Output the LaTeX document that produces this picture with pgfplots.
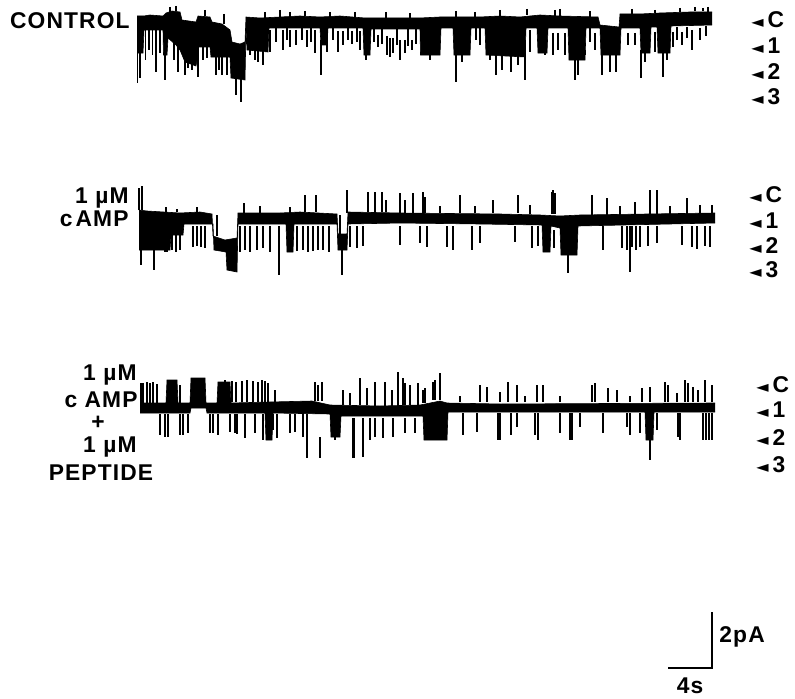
\documentclass[border=0pt]{standalone}
\usepackage{fontspec}
\setmainfont{Liberation Sans}
\newfontfamily\lab{Liberation Sans}[LetterSpace=5]
\newfontfamily\symfont{DejaVu Sans}
\usepackage{pgfplots}
\usepackage{pgfplotstable}
\pgfplotsset{compat=1.18}
\usepgfplotslibrary{fillbetween}

% spikes: x, upper end a, lower end b (pixel rows, downward = larger)
\pgfplotstableread{
x a b
137.5 26 83
140 30 78
145.5 30 60
149 26 50
152.5 26 55
156 26 72
160 26 53
165 30 80
174 40 60
178 40 72
185 50 75
188 50 68
192 50 70
198 47 77
203 47 60
207 47 58
216 55 75
219 55 70
222 55 75
227 55 75
236 78 95
241 78 102
250 30 55
253 30 48
255 45 60
258 40 62
263 30 65
270 30 52
276 28 42
283 30 50
287 28 40
290 30 47
296 30 45
302 28 40
307 30 47
311 28 42
315 30 53
321 40 75
327 31 52
333 28 40
338 31 52
343 31 45
348 28 40
352 31 44
357 28 42
360 31 50
366 50 60
374 29 42
378 35 47
382 29 44
387 36 55
390 38 57
393 38 53
397 29 45
400 40 60
405 40 53
408 29 46
412 40 50
416 29 44
430 50 60
456 50 82
462 50 62
476 28 40
480 28 45
490 50 60
496 52 75
502 52 70
511 55 72
518 55 65
525 40 80
530 30 52
545 40 55
553 33 55
558 33 50
565 33 55
575 55 80
578 55 75
585 50 55
590 28 42
595 33 50
602 50 75
610 50 72
616 50 72
628 33 45
635 33 45
641 50 78
645 50 62
655 32 52
663 50 77
667 50 60
673 32 47
677 27 40
682 32 45
687 27 38
692 30 50
700 28 40
706 26 36
170 7 13
176 6 11
205 10 16
224 14 24
265 12 18
280 10 17
290 12 17
305 11 16
330 12 17
355 12 17
386 12 18
410 13 19
456 11 17
475 12 17
500 10 16
527 9 15
555 10 16
560 9 16
590 11 17
632 9 14
655 10 13
680 8 12
695 7 11
703 8 11
708 7 12
}\spikesA

\pgfplotstableread{
x a b
141 240 265
154 250 270
165 240 252
167 235 252
172 235 250
176 235 252
180 235 250
193 226 247
197 226 246
201 226 247
205 226 248
240 226 252
245 226 250
250 226 252
257 226 250
263 226 248
270 226 252
279 226 275
297 226 251
303 226 250
308 226 252
313 226 251
318 226 250
323 226 250
329 226 252
342 250 275
350 226 247
357 226 248
363 226 246
400 226 245
420 226 243
427 226 247
447 226 247
453 226 250
472 226 250
480 226 243
515 226 242
532 226 248
538 226 246
554 230 248
568 255 273
603 226 250
622 226 248
627 226 250
630 226 272
632 226 247
636 226 250
640 226 247
648 226 246
657 226 243
682 226 245
692 226 247
697 226 249
705 226 246
710 226 247
139 188 210
142 186 210
166 207 212
177 209 212
197 207 212
217 215 236
244 203 213
260 206 213
290 207 213
305 195 212
316 195 212
340 215 234
347 190 213
368 192 212
375 192 212
382 192 212
386 200 212
400 193 213
405 200 213
413 193 213
423 192 213
425 197 213
440 206 213
460 195 213
475 206 213
493 200 213
518 195 213
530 205 214
552 192 214
553 190 214
555 193 214
592 195 215
607 198 215
620 206 215
635 202 215
650 190 215
657 190 215
670 206 214
687 198 214
700 205 214
712 205 213
}\spikesB

\pgfplotstableread{
x a b
160 414 435
165 414 437
168 414 437
180 414 435
183 414 435
188 414 433
210 414 433
213 414 433
218 414 435
230 414 432
235 414 433
237 414 434
245 414 438
255 414 433
263 414 440
273 414 430
277 414 438
290 414 433
295 414 432
303 414 437
307 414 458
320 437 458
335 418 440
353 418 458
354 418 458
363 418 457
370 418 440
375 418 437
383 418 438
393 418 437
405 418 433
415 418 433
463 413 435
477 413 432
498 413 440
500 413 440
511 413 435
517 413 427
535 413 435
538 413 440
560 413 433
570 413 440
572 413 440
580 413 427
603 413 433
627 413 427
630 413 435
640 413 433
650 440 460
657 413 430
678 413 437
680 413 440
703 413 440
706 413 440
709 413 440
712 413 440
141 383 403
143 383 403
147 382 403
150 383 403
153 382 403
157 384 403
180 385 403
225 380 402
232 381 402
236 382 402
242 381 402
247 380 402
253 381 402
258 382 402
262 380 402
265 381 402
268 383 402
275 390 402
315 382 401
318 385 401
322 382 401
343 390 405
350 393 405
360 378 405
367 388 405
375 382 406
385 382 406
392 390 406
398 372 406
403 378 405
405 383 405
410 385 405
418 383 405
423 390 403
425 388 403
433 382 400
435 380 400
440 373 400
460 396 402
480 385 402
487 387 402
500 392 402
508 382 402
517 385 402
525 396 402
537 385 402
543 385 402
560 396 402
592 385 402
595 383 402
608 388 402
617 390 402
630 396 402
642 388 402
650 387 402
665 382 402
668 385 402
677 393 402
685 380 402
688 383 402
693 387 402
698 390 402
705 380 402
712 385 402
}\spikesC

\newcommand\txt[1]{{\lab\bfseries\fontsize{11.4}{13}\selectfont #1}}
\newcommand\tri{{\symfont\fontsize{8}{8}\selectfont ◄}}
\newcommand\lev[1]{\tri\hspace{2pt}\txt{#1}}

\begin{document}
\begin{tikzpicture}
\begin{axis}[
  scale only axis, width=397.5pt, height=349pt,
  xmin=0, xmax=795, ymin=0, ymax=698, y dir=reverse,
  hide axis, clip=false,
  band/.style={black, line width=0.3pt, no marks},
  spk/.style={draw=none, no marks,
    error bars/.cd, y dir=plus, y explicit,
    error mark=none, error bar style={draw=black, line width=0.65pt}},
]
% ---- CONTROL trace ----
\addplot[band, name path=ua] coordinates {(137,16) (144,16) (150,15) (163,16) (166,13) (172,11) (180,12) (182,20) (196,22) (198,16) (210,17) (212,22) (222,24) (230,30) (232,42) (240,44) (245,42) (246,17) (260,18) (280,17) (300,16) (320,17) (340,16) (365,18) (380,18) (420,18) (440,17) (480,17) (500,16) (520,17) (540,15) (560,16) (598,17) (600,25) (619,27) (620,14) (640,14) (660,13) (690,12) (712,12)};
\addplot[band, name path=la] coordinates {(137,53) (143,53) (144,30) (163,30) (163.5,55) (167,55) (168,38) (176,45) (180,50) (185,62) (196,66) (197,60) (198,47) (210,47) (211,57) (230,57) (231,78) (245,80) (246,28) (247,50) (268,52) (269,28) (320,28) (321,45) (327,45) (328,28) (363,28) (364,55) (370,55) (371,29) (420,29) (420.5,55) (440,55) (441,28) (453,28) (454,55) (470,55) (471,28) (485,28) (486,55) (525,57) (526,28) (537,28) (538,53) (547,53) (548,28) (568,28) (569,60) (585,60) (586,28) (600,28) (601,55) (620,55) (621,28) (640,28) (641,53) (650,53) (651,27) (657,27) (658,53) (670,53) (671,26) (712,25)};
\addplot[black] fill between[of=ua and la];
\addplot[spk] table[x=x, y=a, y error expr=\thisrow{b}-\thisrow{a}] {\spikesA};

% ---- 1 uM cAMP trace ----
\addplot[band, name path=ub] coordinates {(139,210) (147,211) (180,213) (200,212) (212,214) (213,236) (225,240) (237,238) (238,213) (280,213) (300,212) (337,214) (338,234) (347,234) (348,212) (400,213) (500,214) (540,215) (560,216) (580,215) (715,213)};
\addplot[band, name path=lb] coordinates {(139,250) (170,250) (171,235) (183,235) (184,224) (213,224) (214,250) (226,252) (227,270) (237,272) (238,224) (286,224) (287,252) (293,252) (294,224) (337,224) (338,250) (347,250) (348,224) (400,223) (480,224) (542,225) (543,252) (550,252) (551,226) (560,228) (561,255) (577,255) (578,226) (715,223)};
\addplot[black] fill between[of=ub and lb];
\addplot[spk] table[x=x, y=a, y error expr=\thisrow{b}-\thisrow{a}] {\spikesB};

% ---- cAMP + peptide trace ----
\addplot[band, name path=uc] coordinates {(140,403) (166,403) (167,380) (177,380) (178,403) (190,403) (191,378) (205,378) (206,403) (217,403) (218,382) (230,382) (231,403) (270,402) (312,401) (330,405) (380,406) (420,405) (440,401) (447,403) (500,404) (715,403)};
\addplot[band, name path=lc] coordinates {(140,413) (190,413) (191,408) (206,408) (207,413) (265,413) (266,440) (272,440) (273,413) (330,414) (331,437) (340,437) (341,416) (423,416) (424,440) (447,440) (448,412) (645,412) (646,440) (653,440) (654,412) (715,412)};
\addplot[black] fill between[of=uc and lc];
\addplot[spk] table[x=x, y=a, y error expr=\thisrow{b}-\thisrow{a}] {\spikesC};

% ---- scale bar ----
\addplot[black, line width=0.8pt, no marks] coordinates {(668,668) (712,668) (712,612)};
\node[anchor=west, inner sep=0pt] at (axis cs:719,637) {\txt{2pA}};
\node[inner sep=0pt] at (axis cs:690,686) {\txt{4s}};

% ---- labels ----
\node[anchor=east, inner sep=0pt] at (axis cs:130,21) {\txt{CONTROL}};
\node[anchor=east, inner sep=0pt] at (axis cs:129,198) {\txt{1 µM}};
\node[anchor=east, inner sep=0pt] at (axis cs:129,219) {\txt{c\hspace{1.5pt}AMP}};
\node[anchor=east, inner sep=0pt] at (axis cs:137,375) {\txt{1 µM}};
\node[anchor=east, inner sep=0pt] at (axis cs:138,400) {\txt{c AMP}};
\node[inner sep=0pt] at (axis cs:98,423) {\txt{+}};
\node[anchor=east, inner sep=0pt] at (axis cs:137,447) {\txt{1 µM}};
\node[inner sep=0pt] at (axis cs:101,473) {\txt{PEPTIDE}};

% ---- level markers ----
\node[anchor=west, inner sep=0pt] at (axis cs:751,20) {\lev{C}};
\node[anchor=west, inner sep=0pt] at (axis cs:751,46) {\lev{1}};
\node[anchor=west, inner sep=0pt] at (axis cs:751,72) {\lev{2}};
\node[anchor=west, inner sep=0pt] at (axis cs:751,97) {\lev{3}};
\node[anchor=west, inner sep=0pt] at (axis cs:749,195) {\lev{C}};
\node[anchor=west, inner sep=0pt] at (axis cs:749,221) {\lev{1}};
\node[anchor=west, inner sep=0pt] at (axis cs:749,246) {\lev{2}};
\node[anchor=west, inner sep=0pt] at (axis cs:749,270) {\lev{3}};
\node[anchor=west, inner sep=0pt] at (axis cs:756,385) {\lev{C}};
\node[anchor=west, inner sep=0pt] at (axis cs:756,410) {\lev{1}};
\node[anchor=west, inner sep=0pt] at (axis cs:756,438) {\lev{2}};
\node[anchor=west, inner sep=0pt] at (axis cs:756,465) {\lev{3}};
\end{axis}
\pgfresetboundingbox
\path (current axis.south west) rectangle (current axis.north east);
\end{tikzpicture}
\end{document}
